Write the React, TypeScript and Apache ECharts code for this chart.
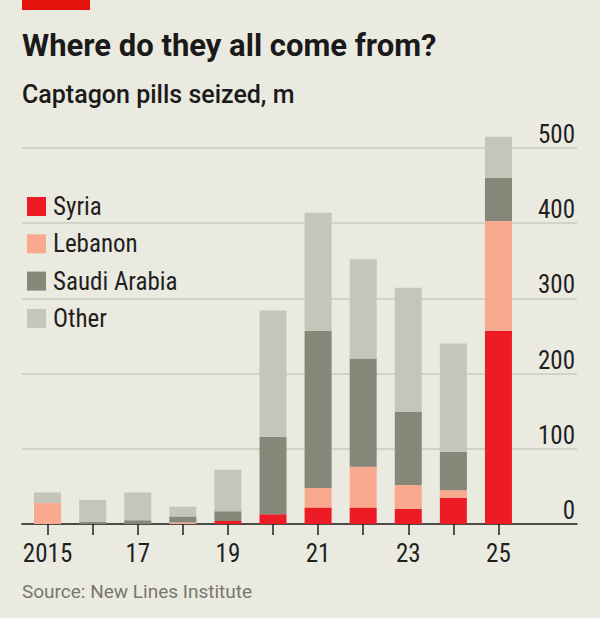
import React, { useEffect, useRef } from "react";
import * as echarts from "echarts";

const years = ["2015", "16", "17", "18", "19", "20", "21", "22", "23", "24", "25"];
const syria = [0, 0, 0, 0, 4, 13, 22, 22, 20, 35, 257];
const lebanon = [28, 0, 0, 2, 0, 0, 26, 54, 32, 10, 146];
const saudi = [0, 3, 5, 8, 13, 103, 209, 144, 97, 51, 57];
const other = [14, 29, 37, 13, 55, 168, 157, 132, 165, 144, 55];
const yTicks = [0, 100, 200, 300, 400, 500];

const BG = "#ebeae0";
const NARROW = '"Liberation Sans Narrow", "Roboto Condensed", Roboto, sans-serif';
const SANS = "Roboto, sans-serif";

export default function App() {
  const ref = useRef<HTMLDivElement>(null);
  useEffect(() => {
    if (!ref.current) return;
    const chart = echarts.init(ref.current, undefined, { renderer: "svg" });
    const series = [
      { name: "Syria", data: syria, color: "#ec1b24" },
      { name: "Lebanon", data: lebanon, color: "#f8a98e" },
      { name: "Saudi Arabia", data: saudi, color: "#868679" },
      { name: "Other", data: other, color: "#c5c5b9" },
    ].map((s) => ({
      name: s.name,
      type: "bar",
      stack: "total",
      data: s.data,
      barWidth: 27,
      clip: false,
      xAxisIndex: 0,
      yAxisIndex: 0,
      itemStyle: { color: s.color },
      emphasis: { disabled: true },
    }));
    chart.setOption({
      animation: false,
      backgroundColor: BG,
      textStyle: { fontFamily: NARROW },
      grid: [
        { left: 25, right: 79, top: 148, bottom: 94 },
        { left: 22, right: 23, top: 148, bottom: 94 },
      ],
      legend: {
        orient: "vertical",
        left: 22,
        top: 189,
        itemWidth: 19,
        itemHeight: 19,
        itemGap: 12.3,
        icon: "rect",
        selectedMode: false,
        data: ["Syria", "Lebanon", "Saudi Arabia", "Other"],
        textStyle: { fontFamily: NARROW, fontSize: 25, color: "#1f1f1f", padding: [0, 0, 0, 2] },
      },
      xAxis: [
        {
          type: "category",
          gridIndex: 0,
          data: years,
          boundaryGap: true,
          axisLine: { show: false },
          axisTick: { show: true, alignWithLabel: true, interval: 0, length: 11, lineStyle: { color: "#1f1f1f", width: 1.5 } },
          axisLabel: { interval: 1, fontFamily: NARROW, fontSize: 25, color: "#1f1f1f", margin: 17 },
          splitLine: { show: false },
        },
        {
          type: "value",
          gridIndex: 1,
          min: 0,
          max: 1,
          axisLine: { show: true, onZero: false, lineStyle: { color: "#1f1f1f", width: 1.5 } },
          axisTick: { show: false },
          axisLabel: { show: false },
          splitLine: { show: false },
        },
      ],
      yAxis: [
        {
          type: "value",
          gridIndex: 0,
          min: 0,
          max: 500,
          interval: 100,
          show: false,
          splitLine: { show: false },
        },
        {
          type: "value",
          gridIndex: 1,
          min: 0,
          max: 500,
          interval: 100,
          position: "right",
          data: yTicks,
          axisLine: { show: false },
          axisTick: { show: false },
          axisLabel: {
            inside: true,
            margin: 2,
            verticalAlign: "bottom",
            fontFamily: NARROW,
            fontSize: 25,
            color: "#1f1f1f",
            padding: [0, 0, 1, 0],
          },
          splitLine: { show: true, lineStyle: { color: "#cacabe", width: 1.5 } },
        },
      ],
      graphic: [
        { type: "rect", left: 22, top: 0, shape: { width: 68, height: 10 }, style: { fill: "#e3120b" } },
        {
          type: "text",
          x: 22,
          y: 45,
          style: { text: "Where do they all come from?", fontFamily: SANS, fontWeight: "bold", fontSize: 31, fill: "#1a1a1a", verticalAlign: "middle" },
        },
        {
          type: "text",
          x: 22,
          y: 94,
          style: { text: "Captagon pills seized, m", fontFamily: SANS, fontWeight: 500, fontSize: 25, fill: "#1a1a1a", verticalAlign: "middle" },
        },
        {
          type: "text",
          x: 22,
          y: 591,
          style: { text: "Source: New Lines Institute", fontFamily: SANS, fontSize: 19, fill: "#777770", verticalAlign: "middle" },
        },
      ],
      series,
    });
    return () => chart.dispose();
  }, []);
  return (
    <div style={{ position: "fixed", left: 0, top: 0, width: 600, height: 618 }}>
      <div ref={ref} style={{ width: 600, height: 618 }} />
    </div>
  );
}
